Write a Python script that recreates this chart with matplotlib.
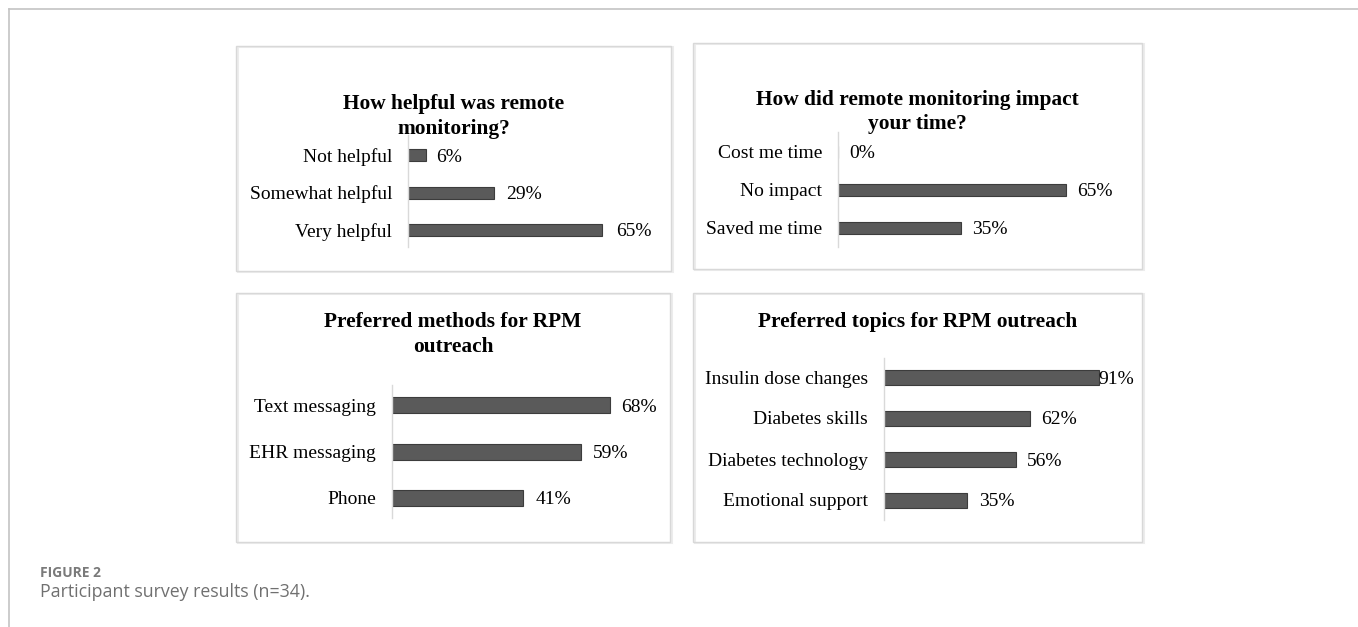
import matplotlib.pyplot as plt
from matplotlib.patches import Rectangle
from matplotlib.lines import Line2D

# Datos de la encuesta (n=34)
help_labels = ['Not helpful', 'Somewhat helpful', 'Very helpful']
help_values = [6, 29, 65]

time_labels = ['Cost me time', 'No impact', 'Saved me time']
time_values = [0, 65, 35]

method_labels = ['Text messaging', 'EHR messaging', 'Phone']
method_values = [68, 59, 41]

topic_labels = ['Insulin dose changes', 'Diabetes skills', 'Diabetes technology', 'Emotional support']
topic_values = [91, 62, 56, 35]

W, H = 1358, 627
fig = plt.figure(figsize=(W / 100, H / 100), dpi=100)
fig.patch.set_facecolor('white')

serif = ['Liberation Serif', 'DejaVu Serif']
BAR = '#5a5a5a'


def fx(x):
    return x / W


def fy(y):
    return 1 - y / H


# Marco exterior
fig.add_artist(Line2D([fx(9), 1], [fy(9), fy(9)], color='#c4c4c4', lw=1.2))
fig.add_artist(Line2D([fx(9), fx(9)], [fy(9), 0], color='#c4c4c4', lw=1.2))


def panel(box, title, title_y, labels, values, axis_x, scale, y_top, y_bot,
          first_c, step, bar_px, gaps):
    x0, y0, x1, y1 = box
    fig.add_artist(Rectangle((fx(x0) + 0.0012, fy(y1) - 0.002), fx(x1 - x0), (y1 - y0) / H,
                             transform=fig.transFigure, facecolor='none',
                             edgecolor='#ececec', lw=1.5))
    fig.add_artist(Rectangle((fx(x0), fy(y1)), fx(x1 - x0), (y1 - y0) / H,
                             transform=fig.transFigure, facecolor='none',
                             edgecolor='#d8d8d8', lw=1))
    for i, line in enumerate(title):
        fig.text(fx((x0 + x1) / 2), fy(title_y + i * 24.5), line, ha='center', va='center',
                 fontsize=15.4, fontweight='bold', family=serif)

    right = x1 - 8
    ax = fig.add_axes([fx(axis_x), fy(y_bot), fx(right - axis_x), (y_bot - y_top) / H])
    ax.set_facecolor('none')
    n = len(values)
    pos = list(range(n))
    ax.barh(pos, values, height=bar_px / step, color=BAR, edgecolor='#3c3c3c', lw=0.8)
    ax.set_xlim(0, (right - axis_x) / scale)
    ax.set_ylim((y_bot - first_c) / step, (y_top - first_c) / step)
    for s in ['top', 'right', 'bottom']:
        ax.spines[s].set_visible(False)
    ax.spines['left'].set_color('#d9d9d9')
    ax.spines['left'].set_linewidth(1)
    ax.set_xticks([])
    ax.set_yticks(pos)
    ax.set_yticklabels(labels, family=serif, fontsize=14)
    ax.tick_params(axis='y', length=0, pad=11.5)
    for p, v, g in zip(pos, values, gaps):
        ax.text(v + g / scale, p, f'{v}%', va='center_baseline', ha='left',
                family=serif, fontsize=14)
    return ax


panel((236, 46, 671, 271), ['How helpful was remote', 'monitoring?'], 104,
      help_labels, help_values, 408, 2.98, 135, 247, 155, 37.5, 12, [10, 12, 14])

panel((693, 43, 1142, 269), ['How did remote monitoring impact', 'your time?'], 100,
      time_labels, time_values, 838, 3.5, 132, 247, 152, 38, 12, [11, 12, 12])

panel((236, 293, 670, 542), ['Preferred methods for RPM', 'outreach'], 322,
      method_labels, method_values, 392, 3.2, 385, 518, 405, 46.5, 16, [12, 12, 12])

panel((693, 293, 1142, 542), ['Preferred topics for RPM outreach'], 322,
      topic_labels, topic_values, 884, 2.36, 358, 520, 377, 41, 15, [0, 11, 11, 12])

# Pie de figura
fig.text(fx(40), fy(573), 'FIGURE 2', fontsize=10, fontweight='bold', color='#7a7a7a',
         family=['Open Sans', 'DejaVu Sans'], va='center')
fig.text(fx(40), fy(592), 'Participant survey results (n=34).', fontsize=12.8, color='#707070',
         family=['Open Sans', 'DejaVu Sans'], va='center')

fig.savefig('out.png', dpi=100, facecolor='white')
